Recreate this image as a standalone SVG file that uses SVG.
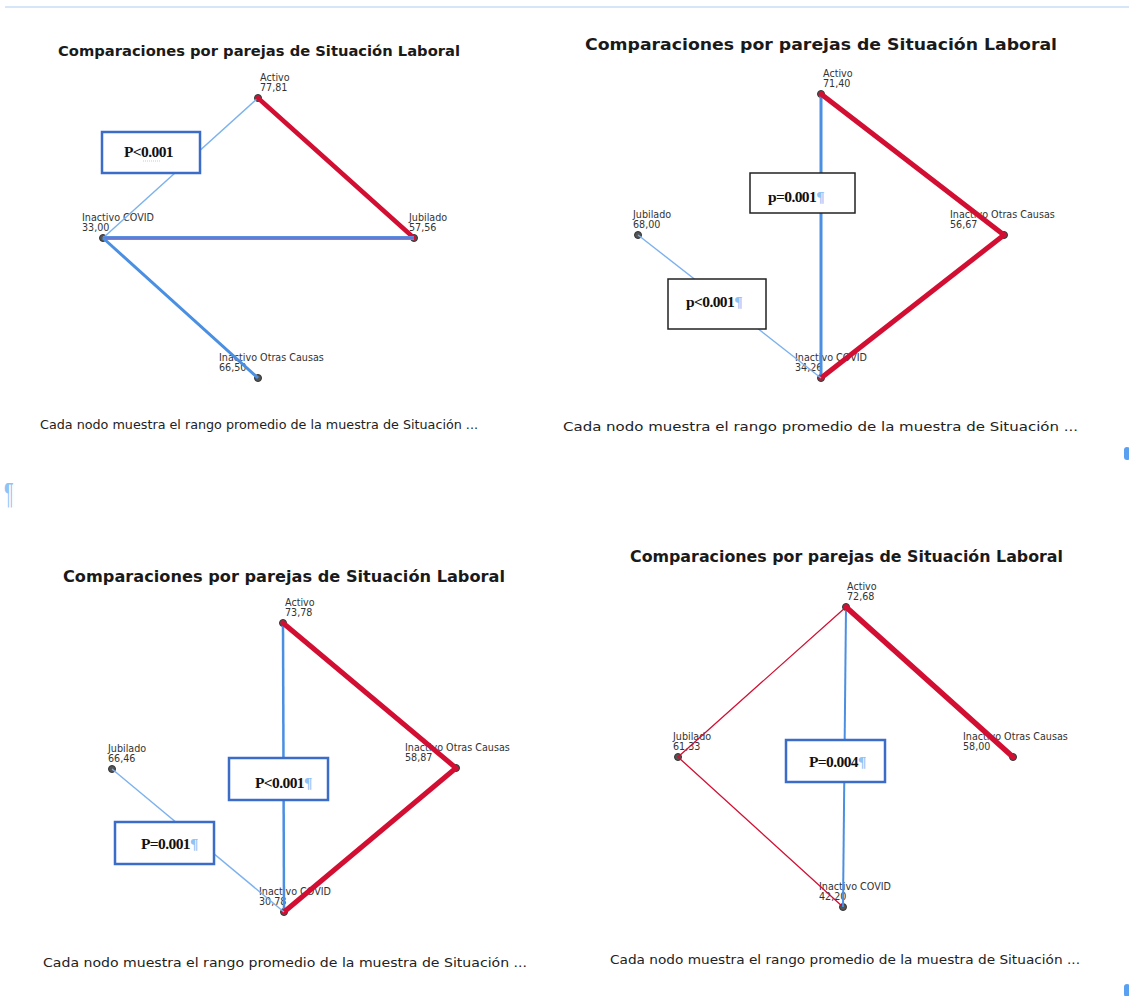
<svg xmlns="http://www.w3.org/2000/svg" width="1129" height="996" viewBox="0 0 1129 996">
<style>
.title{font-family:"DejaVu Sans",sans-serif;font-weight:bold;fill:#1a1a1a}
.nl{font-family:"DejaVu Sans",sans-serif;font-size:9.6px;fill:#333}
.cap{font-family:"DejaVu Sans",sans-serif;font-size:12px;fill:#222}
.dot{fill:#555;stroke:#333;stroke-width:1}
.red{stroke:#d20f33;fill:none;stroke-linecap:round}
.blue{stroke:#4a8fe2;fill:none}
.lblue{stroke:#7db2ee;fill:none;stroke-width:1.4}
.bbox{fill:#fff;stroke:#3a6cc8;stroke-width:2.5}
.kbox{fill:#fff;stroke:#222;stroke-width:1.5}
.pv{font-family:"Liberation Serif",serif;font-weight:bold;font-size:15.5px;fill:#111;letter-spacing:-0.6px}
.pil{fill:#8ec3f5}
</style>
<rect width="1129" height="996" fill="#fff"/>
<line x1="5" y1="7" x2="1129" y2="7" stroke="#a9cdf0" stroke-width="1"/>
<text x="4" y="503" font-family="Liberation Sans,sans-serif" font-size="30" class="pil" transform="translate(4,0) scale(0.6,1) translate(-4,0)">¶</text>
<rect x="1124" y="447" width="6" height="13" rx="3" fill="#5aa0f0"/>
<rect x="1124" y="984" width="6" height="13" rx="3" fill="#5aa0f0"/>

<!-- Panel 1 -->
<g id="panel1">
<text class="title" x="58" y="56" font-size="14" textLength="402" lengthAdjust="spacingAndGlyphs">Comparaciones por parejas de Situación Laboral</text>
<g id="p1-activo"><circle class="dot" cx="258" cy="98" r="3.5"/><text class="nl" x="260" y="81">Activo</text><text class="nl" x="260" y="91">77,81</text></g>
<g id="p1-covid"><circle class="dot" cx="103" cy="238" r="3.5"/><text class="nl" x="82" y="221">Inactivo COVID</text><text class="nl" x="82" y="231">33,00</text></g>
<g id="p1-jubilado"><circle class="dot" cx="414" cy="238" r="3.5"/><text class="nl" x="409" y="221">Jubilado</text><text class="nl" x="409" y="231">57,56</text></g>
<g id="p1-otras"><circle class="dot" cx="258" cy="378" r="3.5"/><text class="nl" x="219" y="361">Inactivo Otras Causas</text><text class="nl" x="219" y="371">66,50</text></g>
<g id="p1-connectors">
<line class="lblue" x1="258" y1="98" x2="103" y2="238"/>
<line class="red" stroke-width="4.5" x1="258" y1="98" x2="414" y2="238"/>
<line stroke="#5a8fe2" stroke-width="4" x1="103" y1="238" x2="414" y2="238"/>
<line stroke="#7b62b8" stroke-width="1.2" x1="103" y1="238" x2="414" y2="238"/>
<line class="blue" stroke-width="3" x1="103" y1="238" x2="258" y2="378"/>
</g>
<g id="p1-label">
<rect class="bbox" x="102" y="132" width="98" height="41"/>
<text class="pv" x="124" y="157">P&lt;0.001</text>
<line x1="143" y1="161" x2="160" y2="161" stroke="#bbb" stroke-width="0.8" stroke-dasharray="1,1"/>
</g>
<text class="cap" x="40" y="429" textLength="438" lengthAdjust="spacingAndGlyphs">Cada nodo muestra el rango promedio de la muestra de Situación ...</text>
</g>

<!-- Panel 2 -->
<g id="panel2">
<text class="title" x="585" y="50" font-size="16" textLength="472" lengthAdjust="spacingAndGlyphs">Comparaciones por parejas de Situación Laboral</text>
<g id="p2-activo"><circle class="dot" cx="821" cy="94" r="3.5"/><text class="nl" x="823" y="77">Activo</text><text class="nl" x="823" y="87">71,40</text></g>
<g id="p2-jubilado"><circle class="dot" cx="638" cy="235" r="3.5"/><text class="nl" x="633" y="218">Jubilado</text><text class="nl" x="633" y="228">68,00</text></g>
<g id="p2-otras"><circle class="dot" cx="1004" cy="235" r="3.5"/><text class="nl" x="950" y="218">Inactivo Otras Causas</text><text class="nl" x="950" y="228">56,67</text></g>
<g id="p2-covid"><circle class="dot" cx="821" cy="378" r="3.5"/><text class="nl" x="795" y="361">Inactivo COVID</text><text class="nl" x="795" y="371">34,26</text></g>
<g id="p2-connectors">
<line class="blue" stroke-width="3" x1="821" y1="94" x2="821" y2="378"/>
<line class="red" stroke-width="5" x1="821" y1="94" x2="1004" y2="235"/>
<line class="red" stroke-width="5" x1="1004" y1="235" x2="821" y2="378"/>
<line class="lblue" x1="638" y1="235" x2="821" y2="378"/>
</g>
<g id="p2-labels">
<rect class="kbox" x="750" y="173" width="105" height="40"/>
<text class="pv" x="768" y="202" font-size="18">p=0.001<tspan class="pil">¶</tspan></text>
<rect class="kbox" x="668" y="279" width="98" height="50"/>
<text class="pv" x="686" y="307" font-size="18">p&lt;0.001<tspan class="pil">¶</tspan></text>
</g>
<text class="cap" x="563" y="431" textLength="515" lengthAdjust="spacingAndGlyphs">Cada nodo muestra el rango promedio de la muestra de Situación ...</text>
</g>

<!-- Panel 3 -->
<g id="panel3">
<text class="title" x="63" y="582" font-size="15" textLength="442" lengthAdjust="spacingAndGlyphs">Comparaciones por parejas de Situación Laboral</text>
<g id="p3-activo"><circle class="dot" cx="283" cy="623" r="3.5"/><text class="nl" x="285" y="606">Activo</text><text class="nl" x="285" y="616">73,78</text></g>
<g id="p3-jubilado"><circle class="dot" cx="112" cy="769" r="3.5"/><text class="nl" x="108" y="752">Jubilado</text><text class="nl" x="108" y="762">66,46</text></g>
<g id="p3-otras"><circle class="dot" cx="456" cy="768" r="3.5"/><text class="nl" x="405" y="751">Inactivo Otras Causas</text><text class="nl" x="405" y="761">58,87</text></g>
<g id="p3-covid"><circle class="dot" cx="284" cy="912" r="3.5"/><text class="nl" x="259" y="895">Inactivo COVID</text><text class="nl" x="259" y="905">30,78</text></g>
<g id="p3-connectors">
<line class="blue" stroke-width="2.5" x1="283" y1="623" x2="284" y2="912"/>
<line class="red" stroke-width="5" x1="283" y1="623" x2="456" y2="768"/>
<line class="red" stroke-width="5" x1="456" y1="768" x2="284" y2="912"/>
<line class="lblue" x1="112" y1="769" x2="284" y2="912"/>
</g>
<g id="p3-labels">
<rect class="bbox" x="229" y="758" width="99" height="42"/>
<text class="pv" x="255" y="788">P&lt;0.001<tspan class="pil">¶</tspan></text>
<rect class="bbox" x="115" y="822" width="99" height="42"/>
<text class="pv" x="141" y="849">P=0.001<tspan class="pil">¶</tspan></text>
</g>
<text class="cap" x="43" y="967" textLength="484" lengthAdjust="spacingAndGlyphs">Cada nodo muestra el rango promedio de la muestra de Situación ...</text>
</g>

<!-- Panel 4 -->
<g id="panel4">
<text class="title" x="630" y="562" font-size="15" textLength="433" lengthAdjust="spacingAndGlyphs">Comparaciones por parejas de Situación Laboral</text>
<g id="p4-activo"><circle class="dot" cx="846" cy="607" r="3.5"/><text class="nl" x="847" y="590">Activo</text><text class="nl" x="847" y="600">72,68</text></g>
<g id="p4-jubilado"><circle class="dot" cx="678" cy="757" r="3.5"/><text class="nl" x="673" y="740">Jubilado</text><text class="nl" x="673" y="750">61,33</text></g>
<g id="p4-otras"><circle class="dot" cx="1013" cy="757" r="3.5"/><text class="nl" x="963" y="740">Inactivo Otras Causas</text><text class="nl" x="963" y="750">58,00</text></g>
<g id="p4-covid"><circle class="dot" cx="843" cy="907" r="3.5"/><text class="nl" x="819" y="890">Inactivo COVID</text><text class="nl" x="819" y="900">42,20</text></g>
<g id="p4-connectors">
<line class="red" stroke-width="1.3" x1="846" y1="607" x2="678" y2="757"/>
<line class="red" stroke-width="1.3" x1="678" y1="757" x2="843" y2="907"/>
<line class="blue" stroke-width="2" x1="846" y1="607" x2="843" y2="907"/>
<line class="red" stroke-width="5.5" x1="846" y1="607" x2="1013" y2="757"/>
</g>
<g id="p4-labels">
<rect class="bbox" x="786" y="740" width="99" height="42"/>
<text class="pv" x="809" y="767">P=0.004<tspan class="pil">¶</tspan></text>
</g>
<text class="cap" x="610" y="964" textLength="470" lengthAdjust="spacingAndGlyphs">Cada nodo muestra el rango promedio de la muestra de Situación ...</text>
</g>
</svg>
